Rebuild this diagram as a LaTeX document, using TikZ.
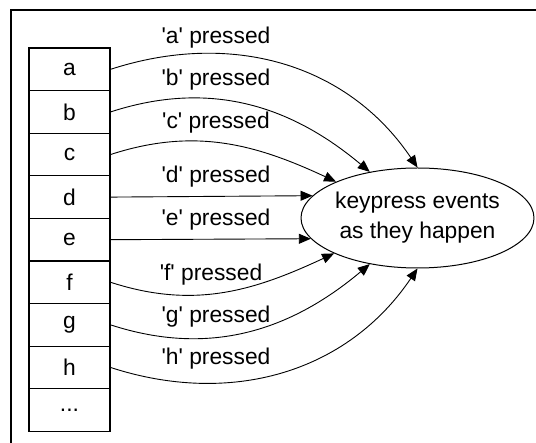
\documentclass[tikz,border=0pt]{standalone}
\usepackage{fontspec}
\setmainfont{Liberation Sans}
\usetikzlibrary{arrows.meta,shapes.geometric}
\newcommand{\q}{\textquotesingle}
\begin{document}
\begin{tikzpicture}[x=1pt,y=-1pt,
  txt/.style={font=\fontsize{22.8}{30}\selectfont},
  keybox/.style={draw,line width=1.3pt,minimum width=81pt,minimum height=42.6pt,inner sep=0pt,txt},
  lbl/.style={txt,anchor=base,inner sep=0pt},
  conn/.style={line width=0.9pt,-{Triangle[length=12pt,width=10pt]}}]
\useasboundingbox (0,0) rectangle (536,443);
\draw[line width=1.2pt] (11,443) -- (11,10) -- (536,10);
\foreach \k [count=\i from 0] in {a,b,c,d,e,f,g,h}{
  \node[keybox] (\k) at (69.5,{48+42.6*(\i+0.5)}) {\k};
}
\node[keybox] (z) at (69.5,{48+42.6*8.5}) {...};
\node[draw,ellipse,line width=1pt,minimum width=225pt,minimum height=100pt,inner sep=0pt,align=center,txt] (ev) at (417.5,218) {keypress events\\as they happen};
\node[lbl] (la) at (216,44) {\q a\q{} pressed};
\node[lbl] (lb) at (216,86) {\q b\q{} pressed};
\node[lbl] (lc) at (216,129) {\q c\q{} pressed};
\node[lbl] (ld) at (216,183) {\q d\q{} pressed};
\node[lbl] (le) at (216,226) {\q e\q{} pressed};
\node[lbl] (lf) at (211,281) {\q f\q{} pressed};
\node[lbl] (lg) at (216,323) {\q g\q{} pressed};
\node[lbl] (lh) at (216,365) {\q h\q{} pressed};
\draw[conn] (a.east) to[out=18,in=124] (ev.90);
\draw[conn] (b.east) to[out=18,in=140] (ev.136.5);
\draw[conn] (c.east) to[out=18,in=155] (ev.156.6);
\draw[conn] (d.east) -- (ev.168.1);
\draw[conn] (e.east) -- (ev.191.9);
\draw[conn] (f.east) to[out=-18,in=-155] (ev.203.4);
\draw[conn] (g.east) to[out=-18,in=-140] (ev.224.4);
\draw[conn] (h.east) to[out=-18,in=-124] (ev.270);
\end{tikzpicture}
\end{document}
